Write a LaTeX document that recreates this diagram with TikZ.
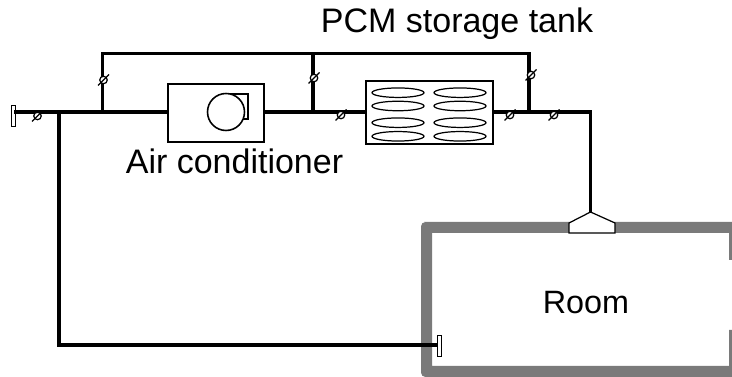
\documentclass[tikz,border=0pt]{standalone}
\usepackage{fontspec}
\setmainfont{Liberation Sans}
\usetikzlibrary{shapes.geometric}
\begin{document}
\begin{tikzpicture}[x=0.02cm, y=-0.02cm, line join=miter,
    duct/.style={line width=2.05pt},
    thinline/.style={line width=0.7pt},
    label/.style={inner sep=0pt, font=\fontsize{19.35}{23}\selectfont},
    unit/.style={draw, line width=1pt, fill=white, inner sep=0pt, outer sep=0pt},
    grille/.style={draw, line width=0.5pt, fill=white, inner sep=0pt, outer sep=0pt,
      minimum width=0.08cm, minimum height=0.42cm},
    valve/.style={circle, draw, thinline, fill=white, inner sep=0pt, minimum size=0.15cm},
    pcm/.style={ellipse, draw, thinline, inner sep=0pt, minimum width=1.04cm, minimum height=0.19cm}]
  \useasboundingbox (0,0) rectangle (732,377);
  % room walls
  \fill[black!52] (732,222) -- (424,222) [rounded corners=2.5pt] -- (421,222) -- (421,377)
    [sharp corners] -- (732,377) -- (732,330) -- (729,330) -- (729,366) -- (432,366)
    -- (432,233) -- (729,233) -- (729,260) -- (732,260) -- cycle;
  % units
  \node[unit, minimum width=1.92cm, minimum height=1.16cm] (ac) at (216,113) {};
  \node[unit, minimum width=2.54cm, minimum height=1.26cm] (tank) at (429.5,112.5) {};
  \node[grille] (inlet) at (13,115.5) {};
  \node[grille] (outlet) at (439,345.5) {};
  % coordinates of the duct
  \coordinate (inletend) at (14,112);
  \coordinate (acin) at (ac.west |- inletend);
  \coordinate (acout) at (ac.east |- inletend);
  \coordinate (tankin) at (tank.west |- inletend);
  \coordinate (tankout) at (tank.east |- inletend);
  \coordinate (branch) at (59,112);
  \coordinate (bypassa) at (102.5,112);
  \coordinate (bypassb) at (313,112);
  \coordinate (bypassc) at (529,112);
  \coordinate (topa) at (102.5,53.5);
  \coordinate (topc) at (529,53.5);
  \coordinate (topb) at (313,53.5);
  \coordinate (bend) at (590.5,112);
  \coordinate (hood) at (590.5,213);
  \coordinate (lowleft) at (59,345);
  \coordinate (outletend) at (437,345);
  \draw[duct] (inletend) -- (acin);
  \draw[duct] (acout) -- (tankin);
  \draw[duct] (tankout) -- (bend) -- (hood);
  \draw[duct] (branch) -- (lowleft) -- (outletend);
  \draw[duct] (bypassa) -- (topa) -- (topc) -- (bypassc);
  \draw[duct] (topb) -- (bypassb);
  % supply hood
  \draw[thinline, fill=white] (569,233) -- (569,223) -- (590.5,212) -- (615,223) -- (615,233) -- cycle;
  % fan
  \node[draw, line width=0.9pt, inner sep=0pt, minimum width=0.44cm, minimum height=0.5cm] (housing) at (237,106.5) {};
  \node[circle, draw, line width=0.9pt, fill=white, inner sep=0pt, minimum size=0.74cm] (fan) at (226,112) {};
  % PCM capsules
  \foreach \name/\ypos in {a/92.7,b/106,c/122.7,d/136.3} {
    \node[pcm] (left\name) at (398,\ypos) {};
    \node[pcm] (right\name) at (460,\ypos) {};
  }
  % valves
  \foreach \name/\xpos/\ypos in {va/37.5/116, vb/103.5/80, vc/314/78, vd/341/115, ve/510/115, vf/554/115, vg/531/75} {
    \node[valve] (\name) at (\xpos,\ypos) {};
    \draw[thinline] ([shift={(-5.5,5.5)}]\name.center) -- ([shift={(5.5,-5.5)}]\name.center);
  }
  % labels
  \node[label, anchor=base] (tanklabel) at (457,33) {PCM storage tank};
  \node[label, anchor=base] (aclabel) at (234.5,174) {Air conditioner};
  \node[label, anchor=base, font=\fontsize{18.4}{22}\selectfont] (roomlabel) at (586,314) {Room};
\end{tikzpicture}
\end{document}
